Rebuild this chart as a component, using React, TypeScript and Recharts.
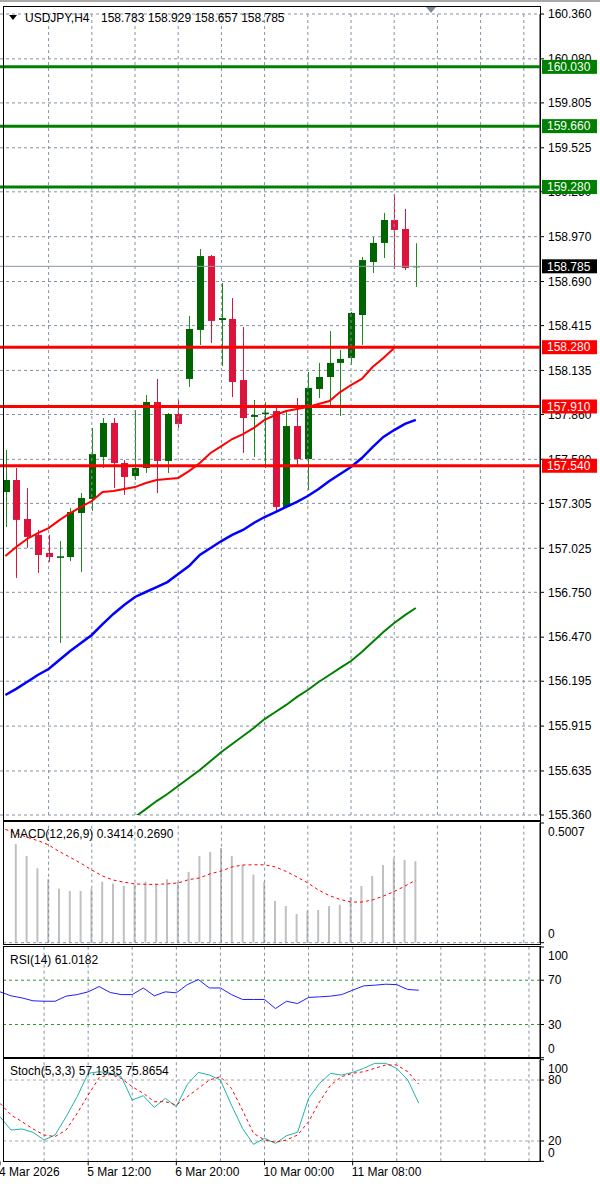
import { Bar, CartesianGrid, ComposedChart, Line, ReferenceLine, XAxis, YAxis } from 'recharts'

const FONT = "'Liberation Sans', Arial, sans-serif"
const GRID = '#8592a4'
const SLOTS = 50

// USDJPY H4 candles
const opens = [
  157.376, 157.451, 157.208, 157.108, 156.996, 156.965, 156.970, 157.245, 157.333, 157.595,
  157.807, 157.557, 157.476, 157.526, 157.938, 157.570, 157.863, 158.082, 158.388, 158.849,
  158.450, 158.456, 158.075, 157.845, 157.862, 157.882, 157.283, 157.788, 157.582, 158.019,
  158.094, 158.182, 158.213, 158.481, 158.812, 158.931, 159.074, 159.018, 158.783,
]
const highs = [
  157.638, 157.526, 157.401, 157.139, 157.108, 157.070, 157.276, 157.370, 157.776, 157.838,
  157.838, 157.576, 157.888, 157.982, 158.082, 157.869, 157.951, 158.475, 158.893, 158.856,
  158.681, 158.587, 158.406, 157.951, 157.938, 157.919, 157.888, 157.963, 158.125, 158.182,
  158.381, 158.263, 158.500, 158.843, 158.968, 159.118, 159.236, 159.143, 158.929,
]
const lows = [
  157.158, 156.840, 157.027, 156.871, 156.939, 156.434, 156.945, 156.877, 157.258, 157.526,
  157.401, 157.358, 157.451, 157.495, 157.370, 157.495, 157.776, 158.032, 158.294, 158.306,
  158.163, 157.969, 157.620, 157.595, 157.526, 157.251, 157.276, 157.538, 157.389, 157.963,
  157.901, 157.851, 158.169, 158.294, 158.743, 158.837, 158.768, 158.762, 158.657,
]
const closes = [
  157.451, 157.202, 157.096, 156.983, 156.970, 156.975, 157.251, 157.339, 157.613, 157.807,
  157.557, 157.470, 157.526, 157.938, 157.570, 157.863, 157.801, 158.394, 158.849, 158.444,
  158.462, 158.063, 157.838, 157.857, 157.872, 157.283, 157.788, 157.582, 158.026, 158.094,
  158.182, 158.207, 158.494, 158.824, 158.931, 159.074, 159.012, 158.774, 158.785,
]

// moving averages
const maRed = [
  156.977, 157.033, 157.083, 157.120, 157.151, 157.201, 157.245, 157.283, 157.320, 157.376,
  157.382, 157.395, 157.407, 157.432, 157.451, 157.457, 157.464, 157.507, 157.557, 157.620,
  157.663, 157.707, 157.738, 157.776, 157.826, 157.857, 157.882, 157.894, 157.907, 157.926,
  157.944, 158.000, 158.044, 158.082, 158.156, 158.213, 158.275, null, null,
]
const maBlue = [
  156.109, 156.147, 156.190, 156.234, 156.271, 156.328, 156.384, 156.434, 156.484, 156.552,
  156.615, 156.671, 156.721, 156.752, 156.783, 156.814, 156.864, 156.914, 156.983, 157.027,
  157.070, 157.108, 157.139, 157.183, 157.220, 157.251, 157.283, 157.314, 157.351, 157.395,
  157.445, 157.489, 157.532, 157.588, 157.657, 157.720, 157.763, 157.801, 157.826,
]
const maGreen = [
  null, null, null, null, null, null, null, null, null, null,
  null, null, 155.348, 155.397, 155.447, 155.491, 155.541, 155.591, 155.641, 155.697,
  155.753, 155.803, 155.853, 155.903, 155.959, 156.003, 156.047, 156.097, 156.140, 156.190,
  156.234, 156.278, 156.321, 156.377, 156.440, 156.502, 156.559, 156.608, 156.652,
]

// indicators
const macdHist = [
  null, 0.413, 0.363, 0.311, 0.265, 0.226, 0.216, 0.216, 0.226, 0.255,
  0.248, 0.238, 0.243, 0.255, 0.248, 0.265, 0.254, 0.296, 0.363, 0.379,
  0.396, 0.363, 0.325, 0.284, 0.254, 0.174, 0.154, 0.120, 0.133, 0.137,
  0.154, 0.159, 0.191, 0.237, 0.279, 0.325, 0.352, 0.346, 0.341,
]
const macdSignal = [
  0.474, 0.458, 0.441, 0.427, 0.409, 0.381, 0.357, 0.332, 0.304, 0.279,
  0.262, 0.253, 0.246, 0.244, 0.244, 0.246, 0.250, 0.264, 0.271, 0.289,
  0.300, 0.317, 0.325, 0.326, 0.326, 0.317, 0.298, 0.275, 0.250, 0.220,
  0.197, 0.181, 0.170, 0.170, 0.179, 0.195, 0.214, 0.237, 0.262,
]
const rsi = [
  59.5, 55.9, 54.0, 51.4, 51.0, 51.0, 55.6, 57.0, 59.5, 64.3,
  58.9, 57.0, 57.0, 63.0, 55.9, 59.5, 58.6, 66.0, 70.6, 63.0,
  63.0, 57.0, 52.6, 52.6, 52.6, 44.4, 51.0, 48.9, 54.4, 55.0,
  55.6, 57.0, 61.0, 64.9, 65.5, 66.4, 66.0, 61.6, 61.0,
]
const stochMain = [
  43.9, 30.8, 31.8, 28.5, 21.0, 25.9, 43.9, 63.6, 86.6, 88.2,
  86.6, 83.3, 60.3, 64.6, 53.1, 62.0, 53.8, 75.7, 87.5, 84.9,
  80.0, 55.4, 32.5, 16.7, 22.6, 17.7, 25.2, 28.5, 62.0, 76.7,
  86.6, 84.9, 87.5, 91.5, 96.4, 96.4, 91.5, 80.0, 57.2,
]
const stochSignal = [
  57.0, 45.6, 39.0, 31.8, 25.9, 24.3, 30.8, 47.2, 65.2, 82.3,
  85.6, 81.6, 73.4, 66.9, 58.7, 58.7, 55.4, 63.6, 71.8, 80.0,
  83.3, 71.8, 50.5, 27.5, 21.0, 18.7, 21.0, 25.9, 39.0, 58.7,
  75.0, 83.3, 86.6, 88.2, 91.5, 94.8, 94.8, 88.2, 75.9,
]

const priceTicks = [
  160.36, 160.08, 159.805, 159.525, 159.25, 158.97, 158.69, 158.415, 158.135, 157.86,
  157.58, 157.305, 157.025, 156.75, 156.47, 156.195, 155.915, 155.635, 155.36,
]
const greenLevels = [160.03, 159.66, 159.28]
const redLevels = [158.28, 157.91, 157.54]
const lastPrice = 158.785
const gridBars = [4, 8, 12, 16, 20, 24, 28, 32, 36, 40, 44, 48]
const timeLabels = ['4 Mar 2026', '5 Mar 12:00', '6 Mar 20:00', '10 Mar 00:00', '11 Mar 08:00']
const timeLabelBars = [0, 8, 16, 24, 32]

const rows = Array.from({ length: SLOTS }, (_, i) => ({
  i,
  open: opens[i] ?? null,
  close: closes[i] ?? null,
  high: highs[i] ?? null,
  low: lows[i] ?? null,
  range: i < opens.length ? [lows[i], highs[i]] : null,
  red: maRed[i] ?? null,
  blue: maBlue[i] ?? null,
  green: maGreen[i] ?? null,
  hist: macdHist[i] ?? null,
  signal: macdSignal[i] ?? null,
  rsi: rsi[i] ?? null,
  k: stochMain[i] ?? null,
  d: stochSignal[i] ?? null,
}))

const Candle = (props: any) => {
  const { x, y, width, height, payload } = props
  if (!payload || payload.open == null) return null
  const top = Math.min(y, y + height)
  const h = Math.abs(height)
  const span = payload.high - payload.low || 1
  const py = (p: number) => top + ((payload.high - p) / span) * h
  const bull = payload.close >= payload.open
  const cx = Math.round(x + width / 2) + 0.5
  const bTop = py(Math.max(payload.open, payload.close))
  const bBot = py(Math.min(payload.open, payload.close))
  return (
    <g>
      <line x1={cx} x2={cx} y1={top} y2={top + h} stroke={bull ? '#1c8a1c' : '#dc143c'} strokeWidth={1} />
      <rect x={cx - 3.5} y={bTop} width={7} height={Math.max(1, bBot - bTop)} fill={bull ? '#006400' : '#dc143c'} />
    </g>
  )
}

const tag = (text: string, bg: string) => (props: any) => {
  const vb = props.viewBox
  if (!vb) return null
  const x0 = vb.x + vb.width + 2
  return (
    <g>
      <rect x={x0} y={vb.y - 7} width={55} height={14} fill={bg} />
      <text x={x0 + 5} y={vb.y} dy="0.355em" fontSize={12} fontFamily={FONT} fill="#fff">
        {text}
      </text>
    </g>
  )
}

const sideTick = (fmt: (v: number) => string, top?: number, bottom?: number) => (props: any) => {
  const { x, y, payload } = props
  let shift = 0
  if (top !== undefined && payload.value === top) shift = 9
  if (bottom !== undefined && payload.value === bottom) shift = -9
  return (
    <text x={x} y={y + shift} dy="0.355em" textAnchor="start" fontSize={12} fontFamily={FONT} fill="#000">
      {fmt(payload.value)}
    </text>
  )
}

const TimeTick = (props: any) => {
  const { x, y, payload } = props
  const k = timeLabelBars.indexOf(payload.value)
  if (k < 0) return null
  return (
    <text x={x - 1} y={y} dy="0.71em" textAnchor="start" fontSize={12} fontFamily={FONT} fill="#000">
      {timeLabels[k]}
    </text>
  )
}

const vGrid = () =>
  gridBars.map((b) => <ReferenceLine key={'g' + b} x={b} stroke={GRID} strokeDasharray="3 3" />)

const axisProps = {
  orientation: 'right' as const,
  width: 60,
  tickSize: 4,
  tickMargin: 4,
  interval: 0 as const,
  allowDataOverflow: true,
  axisLine: { stroke: '#000' },
  tickLine: { stroke: '#000' },
}

const mainMargin = { top: 14, right: 0, bottom: 15, left: 0 }

const overlay = (style: any) => (
  <div style={{ position: 'absolute', pointerEvents: 'none', boxSizing: 'border-box', ...style }} />
)

const label = (text: string, left: number, top: number) => (
  <div
    style={{
      position: 'absolute',
      left,
      top,
      fontFamily: FONT,
      fontSize: 12,
      lineHeight: '12px',
      color: '#000',
      whiteSpace: 'pre',
    }}
  >
    {text}
  </div>
)

export default function App() {
  return (
    <div style={{ position: 'absolute', left: 0, top: 0, width: 600, height: 1184, background: '#fff', overflow: 'hidden' }}>
      {overlay({ left: 0, top: 0, width: 600, height: 2, background: '#a8a8a8' })}

      <div style={{ position: 'absolute', left: 0, top: 0 }}>
        <ComposedChart width={600} height={830} data={rows} margin={mainMargin}>
          <CartesianGrid vertical={false} stroke={GRID} strokeDasharray="3 3" />
          <XAxis dataKey="i" type="category" hide />
          <YAxis
            {...axisProps}
            domain={[155.36, 160.36]}
            ticks={priceTicks}
            tick={sideTick((v) => v.toFixed(3))}
          />
          {vGrid()}
          <Bar dataKey="range" barSize={7} shape={Candle} isAnimationActive={false} />
          <Line dataKey="green" stroke="#008000" strokeWidth={2} dot={false} isAnimationActive={false} />
          <Line dataKey="blue" stroke="#0000ff" strokeWidth={2.5} dot={false} isAnimationActive={false} />
          <Line dataKey="red" stroke="#ff0000" strokeWidth={2} dot={false} isAnimationActive={false} />
        </ComposedChart>
      </div>

      {/* level lines and their price tags, layered above the price axis labels */}
      <div style={{ position: 'absolute', left: 0, top: 0 }}>
        <ComposedChart width={600} height={830} data={rows} margin={mainMargin}>
          <XAxis dataKey="i" type="category" hide />
          <YAxis
            orientation="right"
            width={60}
            domain={[155.36, 160.36]}
            allowDataOverflow
            tick={false}
            tickLine={false}
            axisLine={false}
          />
          <ReferenceLine y={lastPrice} stroke="#8a96a6" strokeWidth={1} label={tag(lastPrice.toFixed(3), '#000')} />
          {greenLevels.map((v) => (
            <ReferenceLine key={'gl' + v} y={v} stroke="#008000" strokeWidth={3} label={tag(v.toFixed(3), '#008000')} />
          ))}
          {redLevels.map((v) => (
            <ReferenceLine key={'rl' + v} y={v} stroke="#ff0000" strokeWidth={3} label={tag(v.toFixed(3), '#ff0000')} />
          ))}
        </ComposedChart>
      </div>

      <div style={{ position: 'absolute', left: 0, top: 820 }}>
        <ComposedChart width={600} height={126} data={rows} margin={{ top: 3, right: 0, bottom: 3.3, left: 0 }}>
          <XAxis dataKey="i" type="category" hide />
          <YAxis {...axisProps} domain={[0, 0.5007]} ticks={[0, 0.5007]} tick={sideTick((v) => (v === 0 ? '0' : v.toFixed(4)), 0.5007, 0)} />
          {vGrid()}
          <ReferenceLine y={0} stroke={GRID} strokeDasharray="3 3" />
          <Bar dataKey="hist" fill="#c0c0c0" barSize={2} isAnimationActive={false} />
          <Line dataKey="signal" stroke="#ff0000" strokeWidth={1} strokeDasharray="3 3" dot={false} isAnimationActive={false} />
        </ComposedChart>
      </div>

      <div style={{ position: 'absolute', left: 0, top: 945 }}>
        <ComposedChart width={600} height={115} data={rows} margin={{ top: 2, right: 0, bottom: 2.3, left: 0 }}>
          <XAxis dataKey="i" type="category" hide />
          <YAxis {...axisProps} domain={[0, 100]} ticks={[0, 30, 70, 100]} tick={sideTick((v) => String(v), 100, 0)} />
          {vGrid()}
          <ReferenceLine y={70} stroke="#2f9a2f" strokeDasharray="3 3" />
          <ReferenceLine y={30} stroke="#2f9a2f" strokeDasharray="3 3" />
          <Line dataKey="rsi" stroke="#1e1eff" strokeWidth={1} dot={false} isAnimationActive={false} />
        </ComposedChart>
      </div>

      <div style={{ position: 'absolute', left: 0, top: 1055 }}>
        <ComposedChart width={600} height={129} data={rows} margin={{ top: 4.7, right: 0, bottom: 0, left: 0 }}>
          <XAxis
            dataKey="i"
            type="category"
            ticks={timeLabelBars}
            interval={0}
            height={22.7}
            tickSize={4}
            tickMargin={2}
            axisLine={false}
            tickLine={{ stroke: '#000' }}
            tick={TimeTick}
          />
          <YAxis {...axisProps} domain={[0, 100]} ticks={[0, 20, 80, 100]} tick={sideTick((v) => String(v), 100, 0)} />
          {vGrid()}
          <ReferenceLine y={80} stroke="#a8a8a8" strokeDasharray="3 3" />
          <ReferenceLine y={20} stroke="#a8a8a8" strokeDasharray="3 3" />
          <Line dataKey="k" stroke="#20b2aa" strokeWidth={1} dot={false} isAnimationActive={false} />
          <Line dataKey="d" stroke="#ff0000" strokeWidth={1} strokeDasharray="3 3" dot={false} isAnimationActive={false} />
        </ComposedChart>
      </div>

      {overlay({ left: 3, top: 6, width: 538, height: 815, border: '1px solid #000' })}
      {overlay({ left: 3, top: 821, width: 538, height: 124, border: '1px solid #000' })}
      {overlay({ left: 3, top: 946, width: 538, height: 112, border: '1px solid #000' })}
      {overlay({ left: 3, top: 1058, width: 538, height: 104, border: '1px solid #000' })}

      {overlay({ left: 426, top: 7, width: 0, height: 0, borderLeft: '5px solid transparent', borderRight: '5px solid transparent', borderTop: '6px solid #7d8b9c' })}
      {overlay({ left: 9, top: 15, width: 0, height: 0, borderLeft: '4px solid transparent', borderRight: '4px solid transparent', borderTop: '5px solid #000' })}
      {label('USDJPY,H4', 25, 12)}
      {label('158.783 158.929 158.657 158.785', 101, 12)}
      {label('MACD(12,26,9) 0.3414 0.2690', 10, 828)}
      {label('RSI(14) 61.0182', 10, 954)}
      {label('Stoch(5,3,3) 57.1935 75.8654', 10, 1065)}
    </div>
  )
}
